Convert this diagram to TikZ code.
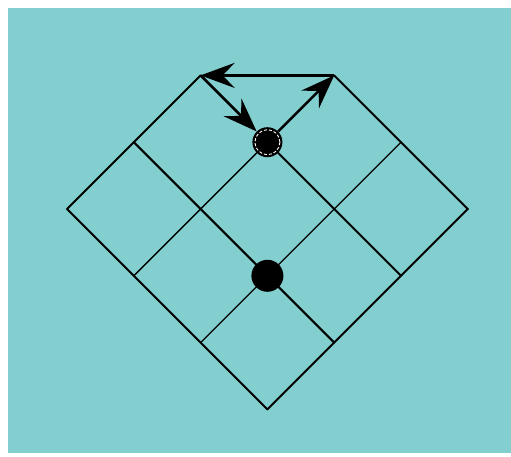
\documentclass[tikz,border=0pt]{standalone}
\usepackage{xcolor}
\usepackage{tikz}
\usetikzlibrary{arrows.meta}

\definecolor{boardbg}{RGB}{131,207,207}

\begin{document}
\begin{tikzpicture}[
  x=1pt,
  y=-1pt,
  edge/.style={
    line width=2pt,
    line cap=round
  },
  rung/.style={
    line width=1.3pt,
    line cap=round
  },
  move/.style={
    line width=2.6pt,
    -{Stealth[length=34pt,width=25pt,inset=12pt]}
  },
  stone/.style={
    circle,
    fill=black,
    inner sep=0pt,
    minimum size=32pt
  },
  start/.style={
    circle,
    fill=black,
    inner sep=0pt,
    minimum size=30pt
  }
]
\useasboundingbox (0,0) rectangle (511,457);
\fill[white] (0,0) rectangle (511,457);
\fill[boardbg] (8,8) rectangle (511,453);
% grid points
\foreach \a in {0,...,3}
  \foreach \b in {0,...,3}
    \coordinate (g-\a-\b) at ({67+66.8*(\a+\b)},{209+66.8*(\a-\b)});
% lines going down-right
\draw[edge] (g-0-0) -- (g-3-0);
\draw[edge] (g-0-1) -- (g-3-1);
\draw[edge] (g-1-2) -- (g-3-2);
\draw[edge] (g-1-3) -- (g-3-3);
% lines going up-right
\draw[edge] (g-0-0) -- (g-0-2);
\draw[rung] (g-1-0) -- (g-1-2);
\draw[rung] (g-2-0) -- (g-2-3);
\draw[edge] (g-3-0) -- (g-3-3);
% stones
\node[stone] (stone) at (g-2-1) {};
\node[start] (here) at (g-1-2) {};
\draw[white,line width=0.9pt,dash pattern=on 3pt off 2pt] (here) circle[radius=12.5pt];
% the moves
\draw[move] (here) -- (g-1-3);
\draw[move] (g-1-3) -- (g-0-2);
\draw[move] (g-0-2) -- (here);
\end{tikzpicture}
\end{document}
